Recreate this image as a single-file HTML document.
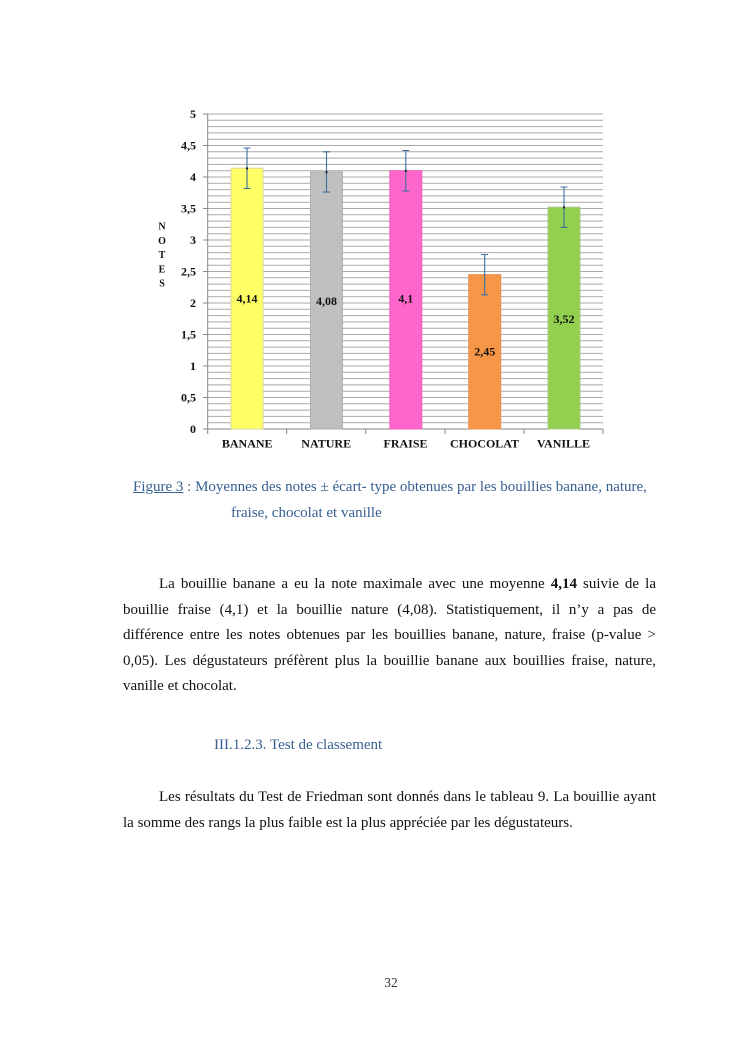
<!DOCTYPE html>
<html>
<head>
<meta charset="utf-8">
<style>
  html,body{margin:0;padding:0;background:#fff;}
  body{width:745px;height:1053px;position:relative;overflow:hidden;font-family:"Liberation Serif","Times New Roman",serif;}
  .ln{position:absolute;font-size:15px;line-height:20px;white-space:nowrap;color:#111;}
  .j{text-align:justify;text-align-last:justify;white-space:normal;}
  .cap{color:#365f91;}
</style>
</head>
<body>
<svg width="745" height="1053" style="position:absolute;left:0;top:0" xmlns="http://www.w3.org/2000/svg">
  <!-- minor gridlines -->
  <path fill="none" stroke="#a9a9a9" stroke-width="1" d="
  M208 422.7H603 M208 416.4H603 M208 410.1H603 M208 403.8H603 M208 397.5H603
  M208 391.2H603 M208 384.9H603 M208 378.6H603 M208 372.3H603 M208 366H603
  M208 359.7H603 M208 353.4H603 M208 347.1H603 M208 340.8H603 M208 334.5H603
  M208 328.2H603 M208 321.9H603 M208 315.6H603 M208 309.3H603 M208 303H603
  M208 296.7H603 M208 290.4H603 M208 284.1H603 M208 277.8H603 M208 271.5H603
  M208 265.2H603 M208 258.9H603 M208 252.6H603 M208 246.3H603 M208 240H603
  M208 233.7H603 M208 227.4H603 M208 221.1H603 M208 214.8H603 M208 208.5H603
  M208 202.2H603 M208 195.9H603 M208 189.6H603 M208 183.3H603 M208 177H603
  M208 170.7H603 M208 164.4H603 M208 158.1H603 M208 151.8H603 M208 145.5H603
  M208 139.2H603 M208 132.9H603 M208 126.6H603 M208 120.3H603 M208 114H603"/>
  <!-- axes -->
  <path fill="none" stroke="#868686" stroke-width="1" d="M207.7 114V429.5 M207.7 429H603
  M203 114H208 M203 145.5H208 M203 177H208 M203 208.5H208 M203 240H208 M203 271.5H208
  M203 303H208 M203 334.5H208 M203 366H208 M203 397.5H208 M203 429H208
  M207.7 429V434 M286.7 429V434 M365.7 429V434 M445 429V434 M524 429V434 M603 429V434"/>
  <!-- bars -->
  <rect x="231" y="168.2" width="32" height="260.8" fill="#ffff66" stroke="#d8d89a" stroke-width="1"/>
  <rect x="310.5" y="172" width="32" height="257" fill="#bfbfbf" stroke="#b0b0b0" stroke-width="1"/>
  <rect x="389.8" y="170.7" width="32" height="258.3" fill="#ff66cc" stroke="#f060c0" stroke-width="1"/>
  <rect x="468.7" y="274.6" width="32" height="154.4" fill="#f79646" stroke="#e89050" stroke-width="1"/>
  <rect x="548" y="207.2" width="32" height="221.8" fill="#92d050" stroke="#a8c890" stroke-width="1"/>
  <!-- error bars -->
  <g stroke="#3d6fa0" stroke-width="1.1" fill="none">
    <path d="M247 148V188.4 M243.5 148H250.5 M243.5 188.4H250.5"/>
    <path d="M326.5 151.8V192.1 M323 151.8H330 M323 192.1H330"/>
    <path d="M405.8 150.5V190.9 M402.3 150.5H409.3 M402.3 190.9H409.3"/>
    <path d="M484.7 254.5V294.8 M481.2 254.5H488.2 M481.2 294.8H488.2"/>
    <path d="M564 187V227.4 M560.5 187H567.5 M560.5 227.4H567.5"/>
  </g>
  <g fill="#222">
    <rect x="246" y="167.4" width="2" height="2"/>
    <rect x="325.5" y="171.2" width="2" height="2"/>
    <rect x="404.8" y="169.9" width="2" height="2"/>
    <rect x="563" y="206.4" width="2" height="2"/>
  </g>
  <!-- y tick labels -->
  <g font-family="Liberation Serif, Times New Roman, serif" font-weight="bold" font-size="12" fill="#111" text-anchor="end">
    <text x="196" y="118">5</text>
    <text x="196" y="149.5">4,5</text>
    <text x="196" y="181">4</text>
    <text x="196" y="212.5">3,5</text>
    <text x="196" y="244">3</text>
    <text x="196" y="275.5">2,5</text>
    <text x="196" y="307">2</text>
    <text x="196" y="338.5">1,5</text>
    <text x="196" y="370">1</text>
    <text x="196" y="401.5">0,5</text>
    <text x="196" y="433">0</text>
  </g>
  <!-- NOTES -->
  <g font-family="Liberation Serif, Times New Roman, serif" font-weight="bold" font-size="10" fill="#111" text-anchor="middle">
    <text x="162" y="229.5">N</text>
    <text x="162" y="243.8">O</text>
    <text x="162" y="258">T</text>
    <text x="162" y="272.3">E</text>
    <text x="162" y="286.7">S</text>
  </g>
  <!-- value labels -->
  <g font-family="Liberation Serif, Times New Roman, serif" font-weight="bold" font-size="12" fill="#111" text-anchor="middle">
    <text x="247" y="302.5">4,14</text>
    <text x="326.5" y="305">4,08</text>
    <text x="405.8" y="302.5">4,1</text>
    <text x="484.7" y="355.7">2,45</text>
    <text x="564" y="323">3,52</text>
  </g>
  <!-- category labels -->
  <g font-family="Liberation Serif, Times New Roman, serif" font-weight="bold" font-size="12" fill="#111" text-anchor="middle">
    <text x="247.2" y="447.7">BANANE</text>
    <text x="326.2" y="447.7">NATURE</text>
    <text x="405.5" y="447.7">FRAISE</text>
    <text x="484.5" y="447.7">CHOCOLAT</text>
    <text x="563.5" y="447.7">VANILLE</text>
  </g>
  <text x="391" y="987" text-anchor="middle" font-family="Liberation Serif, Times New Roman, serif" font-size="13.5" fill="#333">32</text>
</svg>

<div class="ln cap" style="left:133px;top:477px;"><span style="text-decoration:underline;">Figure 3</span> : Moyennes des notes ± écart- type obtenues par les bouillies banane, nature,</div>
<div class="ln cap" style="left:231px;top:502.7px;">fraise, chocolat et vanille</div>

<div class="ln j" style="left:159px;width:497px;top:574px;">La bouillie banane a eu la note maximale avec une moyenne <b>4,14</b> suivie de la</div>
<div class="ln j" style="left:123px;width:533px;top:599.6px;">bouillie fraise (4,1) et la bouillie nature (4,08). Statistiquement, il n’y a pas de</div>
<div class="ln j" style="left:123px;width:533px;top:625.2px;">différence entre les notes obtenues par les bouillies banane, nature, fraise (p-value &gt;</div>
<div class="ln j" style="left:123px;width:533px;top:650.8px;">0,05). Les dégustateurs préfèrent plus la bouillie banane aux bouillies fraise, nature,</div>
<div class="ln" style="left:123px;top:676.4px;">vanille et chocolat.</div>

<div class="ln cap" style="left:214px;top:735px;">III.1.2.3. Test de classement</div>

<div class="ln j" style="left:159px;width:497px;top:787.3px;">Les résultats du Test de Friedman sont donnés dans le tableau 9. La bouillie ayant</div>
<div class="ln" style="left:123px;top:812.7px;">la somme des rangs la plus faible est la plus appréciée par les dégustateurs.</div>
</body>
</html>
